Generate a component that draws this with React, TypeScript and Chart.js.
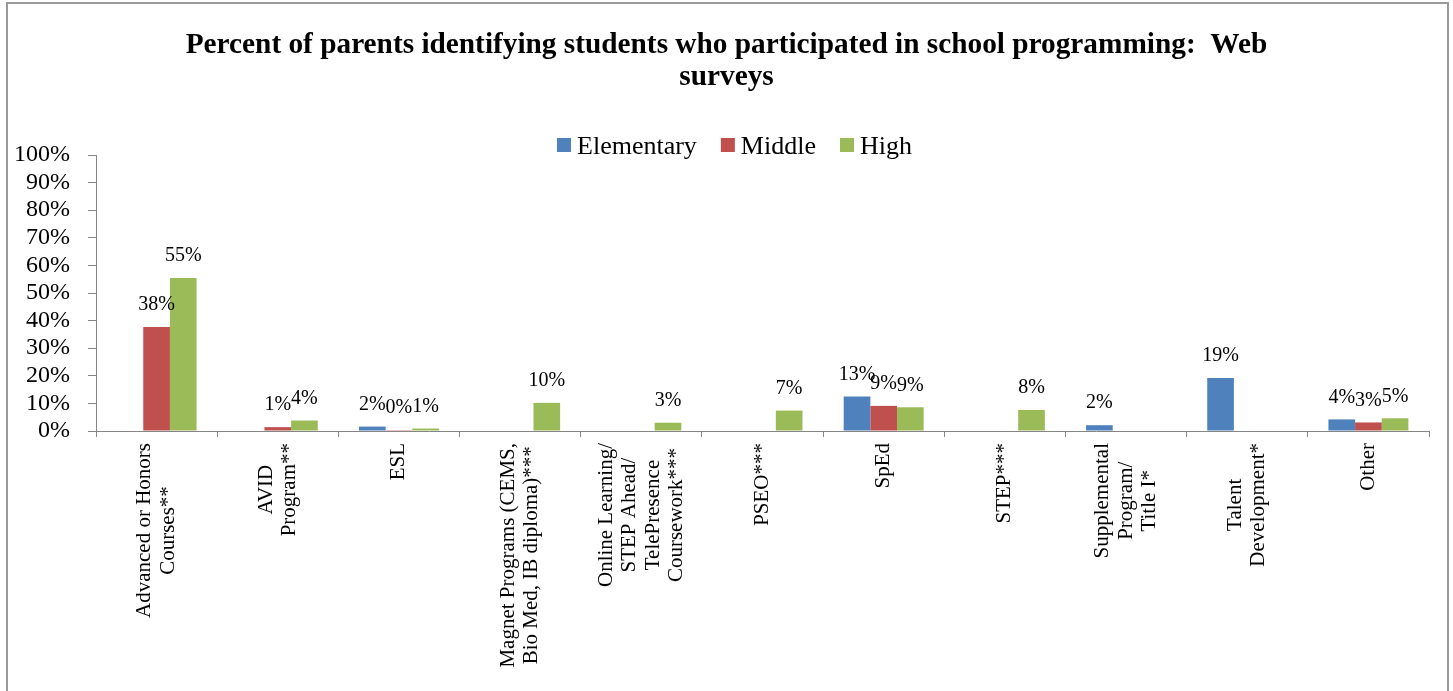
import { useEffect, useRef } from "react";
import { Chart, registerables } from "chart.js";

Chart.register(...registerables);

const SERIF = "'Liberation Serif', 'Times New Roman', serif";

const titleLines = [
  "Percent of parents identifying students who participated in school programming:  Web",
  "surveys",
];

const categories: string[][] = [
  ["Advanced or Honors", "Courses**"],
  ["AVID", "Program**"],
  ["ESL"],
  ["Magnet Programs (CEMS,", "Bio Med, IB diploma)***"],
  ["Online Learning/", "STEP Ahead/", "TelePresence", "Coursework***"],
  ["PSEO***"],
  ["SpEd"],
  ["STEP***"],
  ["Supplemental", "Program/", "Title I*"],
  ["Talent", "Development*"],
  ["Other"],
];

const seriesNames = ["Elementary", "Middle", "High"];
const seriesColors = ["#4F81BD", "#C0504D", "#9BBB59"];

const elementary = [null, null, 1.6, null, null, null, 12.5, null, 2.1, 19.2, 4.2];
const middle = [37.7, 1.4, 0.3, null, null, null, 9.1, null, null, null, 3.1];
const high = [55.4, 3.8, 0.9, 10.2, 3.0, 7.4, 8.6, 7.6, null, null, 4.6];

const yMin = 0;
const yMax = 100;
const yStep = 10;

const AXIS_COLOR = "#868686";

export default function App() {
  const ref = useRef<HTMLCanvasElement>(null);

  useEffect(() => {
    const canvas = ref.current;
    if (!canvas) return;

    const titlePlugin = {
      id: "customTitle",
      afterDraw(chart: any) {
        const ctx = chart.ctx;
        ctx.save();
        ctx.fillStyle = "#000";
        ctx.font = `bold 29.3px ${SERIF}`;
        ctx.textAlign = "center";
        ctx.textBaseline = "alphabetic";
        titleLines.forEach((line, i) => {
          ctx.fillText(line, chart.width / 2, 53 + i * 32);
        });
        ctx.restore();
      },
    };

    const legendPlugin = {
      id: "customLegend",
      afterDraw(chart: any) {
        const ctx = chart.ctx;
        ctx.save();
        ctx.font = `26px ${SERIF}`;
        const box = 14;
        const gap = 6;
        const itemGap = 24;
        const names = chart.data.datasets.map((d: any) => d.label);
        const widths = names.map((n: string) => ctx.measureText(n).width);
        const total =
          widths.reduce((a: number, w: number) => a + box + gap + w, 0) +
          itemGap * (names.length - 1);
        let x = chart.width / 2 + 8 - total / 2;
        const cy = 145;
        names.forEach((n: string, i: number) => {
          ctx.fillStyle = chart.data.datasets[i].backgroundColor;
          ctx.fillRect(x, cy - box / 2, box, box);
          x += box + gap;
          ctx.fillStyle = "#000";
          ctx.textAlign = "left";
          ctx.textBaseline = "alphabetic";
          ctx.fillText(n, x, cy + 9);
          x += widths[i] + itemGap;
        });
        ctx.restore();
      },
    };

    const valueLabelPlugin = {
      id: "valueLabels",
      afterDatasetsDraw(chart: any) {
        const ctx = chart.ctx;
        ctx.save();
        ctx.font = `20px ${SERIF}`;
        ctx.fillStyle = "#000";
        ctx.textAlign = "center";
        ctx.textBaseline = "middle";
        chart.data.datasets.forEach((ds: any, di: number) => {
          const meta = chart.getDatasetMeta(di);
          meta.data.forEach((el: any, i: number) => {
            const v = ds.data[i];
            if (v === null || v === undefined) return;
            ctx.fillText(`${Math.round(v)}%`, el.x, el.y - 22);
          });
        });
        ctx.restore();
      },
    };

    const xLabelPlugin = {
      id: "xLabels",
      afterDraw(chart: any) {
        const ctx = chart.ctx;
        const xs = chart.scales.x;
        ctx.save();
        ctx.font = `21px ${SERIF}`;
        ctx.fillStyle = "#000";
        ctx.textAlign = "center";
        ctx.textBaseline = "middle";
        const lh = 23.5;
        (chart.data.labels as string[][]).forEach((lines, i) => {
          const x = xs.getPixelForValue(i);
          const maxW = Math.max(...lines.map((l) => ctx.measureText(l).width));
          const cy = xs.top + 12 + maxW / 2;
          const n = lines.length;
          lines.forEach((line, j) => {
            ctx.save();
            ctx.translate(x + (j - (n - 1) / 2) * lh, cy);
            ctx.rotate(-Math.PI / 2);
            ctx.fillText(line, 0, 0);
            ctx.restore();
          });
        });
        ctx.restore();
      },
    };

    const chart = new Chart(canvas, {
      type: "bar",
      data: {
        labels: categories as any,
        datasets: [
          { label: seriesNames[0], data: elementary as any, backgroundColor: seriesColors[0] },
          { label: seriesNames[1], data: middle as any, backgroundColor: seriesColors[1] },
          { label: seriesNames[2], data: high as any, backgroundColor: seriesColors[2] },
        ],
      },
      options: {
        responsive: false,
        animation: false,
        devicePixelRatio: 1,
        layout: { padding: { top: 155, right: 24, left: 0, bottom: 0 } },
        datasets: {
          bar: { categoryPercentage: 0.66, barPercentage: 1 },
        },
        plugins: {
          legend: { display: false },
          title: { display: false },
          tooltip: { enabled: false },
        },
        scales: {
          x: {
            offset: true,
            grid: {
              display: true,
              offset: true,
              drawOnChartArea: false,
              drawTicks: true,
              tickLength: 6,
              color: AXIS_COLOR,
            },
            border: { display: true, color: AXIS_COLOR, width: 1 },
            ticks: { display: false },
            afterFit(scale: any) {
              scale.height = 260;
            },
          },
          y: {
            min: yMin,
            max: yMax,
            grid: {
              display: true,
              drawOnChartArea: false,
              drawTicks: true,
              tickLength: 8,
              color: AXIS_COLOR,
            },
            border: { display: true, color: AXIS_COLOR, width: 1 },
            ticks: {
              stepSize: yStep,
              autoSkip: false,
              padding: 18,
              color: "#000",
              font: { family: SERIF, size: 24, lineHeight: 1 },
              callback: (v: any) => `${v}%`,
            },
            afterFit(scale: any) {
              scale.width = 96;
            },
          },
        },
      },
      plugins: [titlePlugin, legendPlugin, valueLabelPlugin, xLabelPlugin],
    });

    return () => chart.destroy();
  }, []);

  return (
    <div
      style={{
        position: "fixed",
        left: 0,
        top: 0,
        width: 1453,
        height: 691,
        background: "#fff",
        overflow: "hidden",
      }}
    >
      <canvas
        ref={ref}
        width={1453}
        height={691}
        style={{ display: "block", width: 1453, height: 691 }}
      />
      <div
        style={{
          position: "absolute",
          left: 6,
          top: 2,
          width: 1443,
          height: 720,
          border: "2px solid #9a9a9a",
          boxSizing: "border-box",
          pointerEvents: "none",
        }}
      />
    </div>
  );
}
